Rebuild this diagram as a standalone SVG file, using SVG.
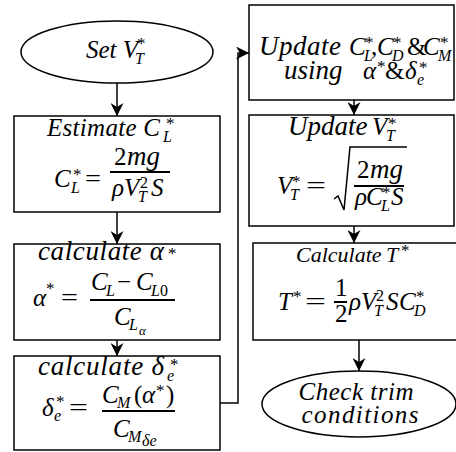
<svg xmlns="http://www.w3.org/2000/svg" width="456" height="452" viewBox="0 0 456 452">
<style>
.t{font-family:"Liberation Serif","Times New Roman",serif;font-style:italic;font-size:25px;fill:#000}
.w{font-size:27px}
.c{font-size:22px}
.u{font-style:normal}
.s{font-size:16px}
.ss{font-size:13px}
.st{font-size:17px;font-style:normal}
.box{fill:#fff;stroke:#000;stroke-width:1.5}
.conn{fill:none;stroke:#000;stroke-width:1.5}
.bar{stroke:#000;stroke-width:2}
</style>
<defs>
<marker id="arr" viewBox="0 0 10 10" refX="10" refY="5" markerWidth="14" markerHeight="13" markerUnits="userSpaceOnUse" orient="auto">
<path d="M0,0 L10,5 L0,10 L3,5 z" fill="#000"/>
</marker>
</defs>
<g id="connectors">
<path class="conn" d="M117,83 V116" marker-end="url(#arr)"/>
<path class="conn" d="M117,212 V244" marker-end="url(#arr)"/>
<path class="conn" d="M117,340 V356" marker-end="url(#arr)"/>
<path class="conn" d="M220,403 H238 V53 H249" marker-end="url(#arr)"/>
<path class="conn" d="M354,100 V115" marker-end="url(#arr)"/>
<path class="conn" d="M354,226 V243" marker-end="url(#arr)"/>
<path class="conn" d="M359,340 V371" marker-end="url(#arr)"/>
</g>
<g id="setVT">
<ellipse class="box" cx="117" cy="52" rx="96" ry="31"/>
<text class="t" x="86" y="58">Set V</text>
<text class="t s" x="135" y="64">T</text>
<text class="t st" x="137" y="49">*</text>
</g>
<g id="estimateCL">
<rect class="box" x="14" y="116" width="206" height="96"/>
<text class="t" x="47" y="136" textLength="113" lengthAdjust="spacing">Estimate C</text>
<text class="t s" x="163" y="142">L</text>
<text class="t st" x="166" y="129">*</text>
<text class="t" x="54" y="187">C</text>
<text class="t s" x="71" y="193">L</text>
<text class="t st" x="73" y="180">*</text>
<text class="t u" x="85" y="187" textLength="16" lengthAdjust="spacingAndGlyphs">=</text>
<line class="bar" x1="110" y1="172" x2="170" y2="172"/>
<text class="t u" x="114" y="165">2</text>
<text class="t w" x="127" y="165">mg</text>
<text class="t" x="112" y="196">ρV</text>
<text class="t s" x="138" y="202">T</text>
<text class="t u s" x="140" y="188">2</text>
<text class="t" x="151" y="196">S</text>
</g>
<g id="calcAlpha">
<rect class="box" x="14" y="244" width="206" height="96"/>
<text class="t w" x="38" y="260" textLength="126" lengthAdjust="spacing">calculate α</text>
<text class="t st" x="168" y="259">*</text>
<text class="t" x="33" y="306">α</text>
<text class="t st" x="46" y="294">*</text>
<text class="t u" x="61" y="306" textLength="17" lengthAdjust="spacingAndGlyphs">=</text>
<line class="bar" x1="90" y1="300" x2="175" y2="300"/>
<text class="t" x="91" y="290">C</text>
<text class="t s" x="106" y="296">L</text>
<text class="t u" x="117" y="290">−</text>
<text class="t" x="136" y="290">C</text>
<text class="t s" x="151" y="296">L<tspan class="u">0</tspan></text>
<text class="t" x="114" y="325">C</text>
<text class="t s" x="129" y="330">L</text>
<text class="t ss" x="139" y="335">α</text>
</g>
<g id="calcDelta">
<rect class="box" x="14" y="356" width="206" height="94"/>
<text class="t w" x="38" y="375" textLength="126" lengthAdjust="spacing">calculate δ</text>
<text class="t s" x="167" y="381">e</text>
<text class="t st" x="170" y="370">*</text>
<text class="t" x="42" y="416">δ</text>
<text class="t s" x="54" y="421">e</text>
<text class="t st" x="56" y="407">*</text>
<text class="t u" x="69" y="416" textLength="19" lengthAdjust="spacingAndGlyphs">=</text>
<line class="bar" x1="102" y1="411" x2="175" y2="411"/>
<text class="t" x="102" y="403">C</text>
<text class="t s" x="117" y="408">M</text>
<text class="t u" x="134" y="403">(</text>
<text class="t" x="142" y="403">α</text>
<text class="t st" x="156" y="396">*</text>
<text class="t u" x="166" y="403">)</text>
<text class="t" x="113" y="437">C</text>
<text class="t s" x="128" y="442">M</text>
<text class="t s" x="142" y="446">δe</text>
</g>
<g id="updateCoeffs">
<rect class="box" x="249" y="5" width="205" height="95"/>
<text class="t w" x="259" y="55" textLength="82" lengthAdjust="spacing">Update</text>
<text class="t" x="349" y="55">C</text>
<text class="t s" x="364" y="61">L</text>
<text class="t st" x="365" y="48">*</text>
<text class="t u" x="371" y="55">,</text>
<text class="t" x="377" y="55">C</text>
<text class="t s" x="392" y="61">D</text>
<text class="t st" x="393" y="48">*</text>
<text class="t u" x="407" y="55">&amp;</text>
<text class="t" x="423" y="55">C</text>
<text class="t s" x="438" y="61">M</text>
<text class="t st" x="440" y="48">*</text>
<text class="t w" x="284" y="79">using</text>
<text class="t" x="363" y="79">α</text>
<text class="t st" x="377" y="72">*</text>
<text class="t u" x="385" y="79">&amp;</text>
<text class="t" x="405" y="79">δ</text>
<text class="t s" x="417" y="85">e</text>
<text class="t st" x="419" y="73">*</text>
</g>
<g id="updateVT">
<rect class="box" x="249" y="115" width="205" height="111"/>
<text class="t w" x="288" y="135">Update</text>
<text class="t" x="372" y="135">V</text>
<text class="t s" x="386" y="141">T</text>
<text class="t st" x="388" y="129">*</text>
<text class="t" x="277" y="194">V</text>
<text class="t s" x="290" y="200">T</text>
<text class="t st" x="292" y="187">*</text>
<text class="t u" x="306" y="194" textLength="20" lengthAdjust="spacingAndGlyphs">=</text>
<path class="conn" d="M334,199 L338,196 L344,210 L350,147 H407"/>
<line class="bar" x1="354" y1="186" x2="404" y2="186"/>
<text class="t u" x="357" y="178">2</text>
<text class="t w" x="370" y="178">mg</text>
<text class="t" x="355" y="205">ρ</text>
<text class="t" x="366" y="205">C</text>
<text class="t s" x="381" y="211">L</text>
<text class="t st" x="382" y="198">*</text>
<text class="t" x="391" y="205">S</text>
</g>
<g id="calcT">
<rect class="box" x="253" y="243" width="210" height="97"/>
<text class="t c" x="296" y="262">Calculate</text>
<text class="t c" x="386" y="262">T</text>
<text class="t st" x="401" y="256">*</text>
<text class="t" x="278" y="310">T</text>
<text class="t st" x="293" y="302">*</text>
<text class="t u" x="305" y="310" textLength="21" lengthAdjust="spacingAndGlyphs">=</text>
<line class="bar" x1="334" y1="302" x2="347" y2="302"/>
<text class="t u" x="335" y="296">1</text>
<text class="t u" x="335" y="322">2</text>
<text class="t" x="349" y="310">ρV</text>
<text class="t s" x="374" y="316">T</text>
<text class="t u s" x="376" y="301">2</text>
<text class="t" x="386" y="310">S</text>
<text class="t" x="399" y="310">C</text>
<text class="t s" x="414" y="316">D</text>
<text class="t st" x="416" y="302">*</text>
</g>
<g id="checkTrim">
<ellipse class="box" cx="359" cy="404" rx="97" ry="33"/>
<text class="t" x="356" y="400" text-anchor="middle" textLength="115" lengthAdjust="spacing">Check trim</text>
<text class="t" x="360" y="423" text-anchor="middle" textLength="117" lengthAdjust="spacing">conditions</text>
</g>
</svg>
